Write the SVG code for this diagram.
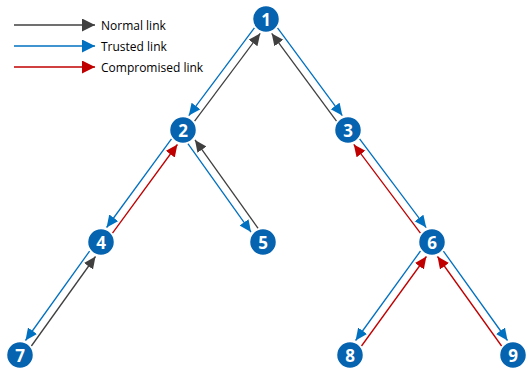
<svg xmlns="http://www.w3.org/2000/svg" width="529" height="369" viewBox="0 0 529 369">
<style>
.l{fill:none;stroke-width:1.3}
.g{stroke:#404040}
.b{stroke:#0070c0}
.r{stroke:#c00000}
.n circle{fill:#0563b0;stroke:#ffffff;stroke-width:1.5}
.n text{fill:#ffffff;font-family:"Open Sans","Liberation Sans",sans-serif;font-weight:bold;font-size:17px;text-anchor:middle;dominant-baseline:central}
.t{fill:#000000;font-family:"Open Sans","Liberation Sans",sans-serif;font-size:12px}
</style>
<defs>
<marker id="ag" markerUnits="userSpaceOnUse" markerWidth="13" markerHeight="12" refX="12" refY="5.5" orient="auto"><path d="M0,0 L12,5.5 L0,11 z" fill="#404040"/></marker>
<marker id="ab" markerUnits="userSpaceOnUse" markerWidth="13" markerHeight="12" refX="12" refY="5.5" orient="auto"><path d="M0,0 L12,5.5 L0,11 z" fill="#0070c0"/></marker>
<marker id="ar" markerUnits="userSpaceOnUse" markerWidth="13" markerHeight="12" refX="12" refY="5.5" orient="auto"><path d="M0,0 L12,5.5 L0,11 z" fill="#c00000"/></marker>
<marker id="lg" markerUnits="userSpaceOnUse" markerWidth="14" markerHeight="14" refX="13" refY="6.5" orient="auto"><path d="M0,0 L13,6.5 L0,13 z" fill="#404040"/></marker>
<marker id="lb" markerUnits="userSpaceOnUse" markerWidth="14" markerHeight="14" refX="13" refY="6.5" orient="auto"><path d="M0,0 L13,6.5 L0,13 z" fill="#0070c0"/></marker>
<marker id="lr" markerUnits="userSpaceOnUse" markerWidth="14" markerHeight="14" refX="13" refY="6.5" orient="auto"><path d="M0,0 L13,6.5 L0,13 z" fill="#c00000"/></marker>
</defs>
<g id="legend">
<line class="l g" x1="14" y1="25" x2="95" y2="25" marker-end="url(#lg)"/>
<line class="l b" x1="14" y1="46" x2="95" y2="46" marker-end="url(#lb)"/>
<line class="l r" x1="14" y1="67" x2="95" y2="67" marker-end="url(#lr)"/>
<text class="t" x="101" y="29.5">Normal link</text>
<text class="t" x="101" y="50.5">Trusted link</text>
<text class="t" x="101" y="71.5">Compromised link</text>
</g>
<g id="connectors">
<line class="l b" x1="254.4" y1="27.8" x2="188.8" y2="115.6" marker-end="url(#ab)"/>
<line class="l g" x1="194.6" y1="121.2" x2="260.2" y2="33.4" marker-end="url(#ag)"/>
<line class="l b" x1="277.5" y1="27.9" x2="342.3" y2="115.6" marker-end="url(#ab)"/>
<line class="l g" x1="336.5" y1="121.1" x2="271.7" y2="33.4" marker-end="url(#ag)"/>
<line class="l b" x1="171.5" y1="138.9" x2="106.6" y2="227.5" marker-end="url(#ab)"/>
<line class="l r" x1="112.5" y1="233.1" x2="177.4" y2="144.5" marker-end="url(#ar)"/>
<line class="l b" x1="187.9" y1="143.7" x2="251.0" y2="232.1" marker-end="url(#ab)"/>
<line class="l g" x1="258.1" y1="228.3" x2="195.0" y2="139.9" marker-end="url(#ag)"/>
<line class="l b" x1="359.6" y1="138.8" x2="426.2" y2="227.6" marker-end="url(#ab)"/>
<line class="l r" x1="420.4" y1="233.2" x2="353.8" y2="144.4" marker-end="url(#ar)"/>
<line class="l b" x1="89.6" y1="251.1" x2="25.5" y2="340.5" marker-end="url(#ab)"/>
<line class="l g" x1="31.4" y1="346.0" x2="95.5" y2="256.5" marker-end="url(#ag)"/>
<line class="l b" x1="420.5" y1="251.0" x2="355.6" y2="340.5" marker-end="url(#ab)"/>
<line class="l r" x1="361.5" y1="346.0" x2="426.4" y2="256.5" marker-end="url(#ar)"/>
<line class="l b" x1="443.4" y1="251.1" x2="507.5" y2="340.5" marker-end="url(#ab)"/>
<line class="l r" x1="501.6" y1="346.0" x2="437.5" y2="256.5" marker-end="url(#ar)"/>
</g>
<g id="node1" class="n"><circle cx="266" cy="19" r="13.5"/><text x="266" y="19">1</text></g>
<g id="node2" class="n"><circle cx="183" cy="130" r="13.5"/><text x="183" y="130">2</text></g>
<g id="node3" class="n"><circle cx="348" cy="130" r="13.5"/><text x="348" y="130">3</text></g>
<g id="node4" class="n"><circle cx="101" cy="242" r="13.5"/><text x="101" y="242">4</text></g>
<g id="node5" class="n"><circle cx="263" cy="242" r="13.5"/><text x="263" y="242">5</text></g>
<g id="node6" class="n"><circle cx="432" cy="242" r="13.5"/><text x="432" y="242">6</text></g>
<g id="node7" class="n"><circle cx="20" cy="355" r="13.5"/><text x="20" y="355">7</text></g>
<g id="node8" class="n"><circle cx="350" cy="355" r="13.5"/><text x="350" y="355">8</text></g>
<g id="node9" class="n"><circle cx="513" cy="355" r="13.5"/><text x="513" y="355">9</text></g>
</svg>
